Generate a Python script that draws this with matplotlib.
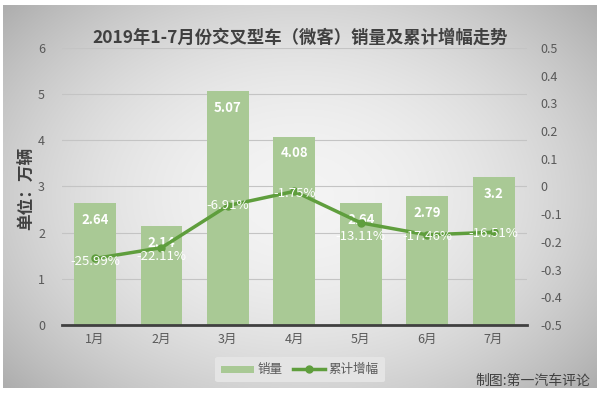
import matplotlib

matplotlib.use("Agg")

import matplotlib.pyplot as plt  # noqa: E402
import numpy as np  # noqa: E402

plt.rcParams["font.family"] = ["Noto Sans CJK SC", "DejaVu Sans"]

months = ["1月", "2月", "3月", "4月", "5月", "6月", "7月"]
sales = [2.64, 2.14, 5.07, 4.08, 2.64, 2.79, 3.2]
growth = [-0.2599, -0.2211, -0.0691, -0.0175, -0.1311, -0.1746, -0.1651]
sales_labels = ["2.64", "2.14", "5.07", "4.08", "2.64", "2.79", "3.2"]
growth_labels = ["-25.99%", "-22.11%", "-6.91%", "-1.75%", "-13.11%", "-17.46%", "-16.51%"]

bar_color = "#a9c995"
line_color = "#5f9e3d"
text_gray = "#595959"
# small vertical nudges for the growth labels, like the spreadsheet placed them
growth_label_shift = [0.01, 0.033, 0.0, 0.007, 0.05, 0.007, 0.004]

fig = plt.figure(figsize=(6.0, 3.93), dpi=100, facecolor="white")

# gradient background (light centre, darker edges)
bg = fig.add_axes([0.005, 0.012, 0.99, 0.976], zorder=-10)
yy, xx = np.mgrid[-1:1:200j, -1:1:300j]
r2 = (xx * 0.95) ** 2 + (yy * 0.85) ** 2
shade = np.clip(0.955 - 0.17 * r2, 0, 1)
bg.imshow(np.dstack([shade] * 3), aspect="auto", extent=[0, 1, 0, 1],
          interpolation="bilinear")
bg.set_axis_off()

ax = fig.add_axes([0.103, 0.173, 0.775, 0.705])
ax.patch.set_alpha(0)
x = np.arange(len(months))
bars = ax.bar(x, sales, width=0.63, color=bar_color, label="销量", zorder=2)
ax.set_ylim(0, 6)
ax.set_xlim(-0.5, len(months) - 0.5)
ax.set_yticks(range(7))
ax.yaxis.grid(True, color="#c4c4c4", linewidth=0.8, zorder=0)
ax.set_axisbelow(True)
for side in ["top", "right", "left"]:
    ax.spines[side].set_visible(False)
ax.spines["bottom"].set_color("#404040")
ax.spines["bottom"].set_linewidth(2)
ax.spines["bottom"].set_zorder(5)
ax.tick_params(length=0, colors=text_gray, labelsize=9)
ax.tick_params(axis="y", pad=12)
ax.set_xticks(x)
ax.set_xticklabels(months)
ax.tick_params(axis="x", pad=6)

for xi, v, lab in zip(x, sales, sales_labels):
    ax.text(xi, v - 0.36, lab, ha="center", va="center", color="white",
            fontsize=9.5, fontweight="bold", zorder=4)

ax2 = ax.twinx()
ax2.set_ylim(-0.5, 0.5)
ax2.set_yticks(np.round(np.arange(-0.5, 0.51, 0.1), 1))
ax2.set_yticklabels(["-0.5", "-0.4", "-0.3", "-0.2", "-0.1", "0",
                     "0.1", "0.2", "0.3", "0.4", "0.5"])
for side in ["top", "right", "left", "bottom"]:
    ax2.spines[side].set_visible(False)
ax2.tick_params(length=0, colors=text_gray, labelsize=9, pad=10)
line, = ax2.plot(x, growth, color=line_color, linewidth=2.5, marker="o",
                 markersize=5, label="累计增幅", zorder=3)
for xi, v, lab, dv in zip(x, growth, growth_labels, growth_label_shift):
    ax2.text(xi, v - dv, lab, ha="center", va="center", color="white",
             fontsize=9.5, zorder=4)

fig.text(0.5, 0.905, "2019年1-7月份交叉型车（微客）销量及累计增幅走势",
         ha="center", va="center", fontsize=12.5, fontweight="bold",
         color="#404040")
fig.text(0.045, 0.52, "单位：万辆", rotation=90, ha="center", va="center",
         fontsize=12, fontweight="bold", color="#404040")
fig.text(0.983, 0.03, "制图:第一汽车评论", ha="right", va="center",
         fontsize=10, color="#404040")

leg = fig.legend([bars, line], ["销量", "累计增幅"], loc="center",
                 bbox_to_anchor=(0.5, 0.06), ncol=2, frameon=True,
                 fontsize=9, handlelength=2.6, columnspacing=0.8,
                 handletextpad=0.3, borderpad=0.5)
leg.get_frame().set_facecolor("#e6e6e6")
leg.get_frame().set_edgecolor("none")
leg.get_frame().set_alpha(0.9)
for t in leg.get_texts():
    t.set_color(text_gray)
leg.legend_handles[0].set_height(5)

fig.savefig("out.png", dpi=100)
